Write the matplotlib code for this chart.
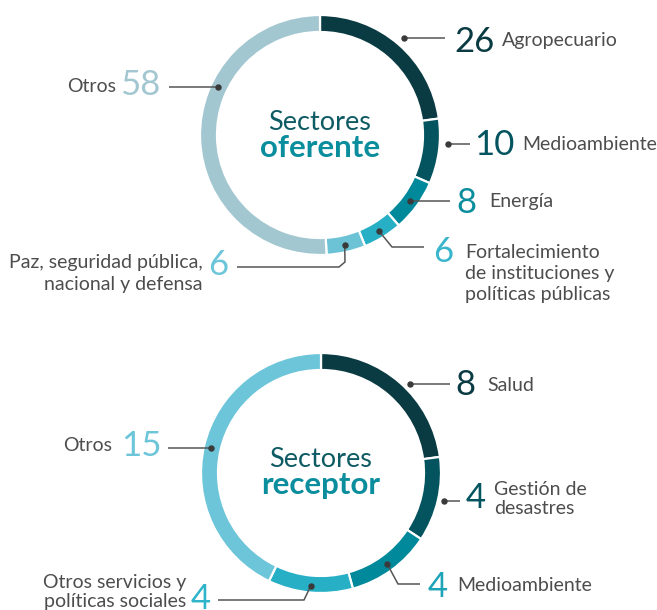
import numpy as np
import matplotlib.pyplot as plt

plt.rcParams['font.family'] = ['Lato', 'DejaVu Sans']

# ---- data ----
top_labels = ['Agropecuario', 'Medioambiente', 'Energía',
              'Fortalecimiento\nde instituciones y\npolíticas públicas',
              'Paz, seguridad pública,\nnacional y defensa', 'Otros']
top_values = [26, 10, 8, 6, 6, 58]
top_colors = ['#0a3b43', '#03545f', '#00899b', '#27afc5', '#6cc3d6', '#a3c7d1']
top_num_colors = ['#0a3b43', '#03545f', '#0a8d9d', '#3ab5cb', '#6cc5d8', '#a3c7d1']

bottom_labels = ['Salud', 'Gestión de\ndesastres', 'Medioambiente',
                 'Otros servicios y\npolíticas sociales', 'Otros']
bottom_values = [8, 4, 4, 4, 15]
bottom_colors = ['#0a3b43', '#03545f', '#00899b', '#27afc5', '#6cc5d8']
bottom_num_colors = ['#0a3b43', '#03545f', '#1ea3b7', '#2fb4ca', '#6cc5d8']

LABEL_C = '#4d4d4d'
LINE_C = '#555555'

fig = plt.figure(figsize=(6.57, 6.10), dpi=100)
ax = fig.add_axes([0, 0, 1, 1])


def donut(values, colors, cx, cy):
    # y axis is inverted, so counterclock in data space reads clockwise on screen
    ax.pie(values, colors=colors, center=(cx, cy), radius=120,
           startangle=-90, counterclock=True,
           wedgeprops=dict(width=17, edgecolor='white', linewidth=1.6))


def mid_angles(values):
    v = np.array(values, dtype=float)
    cum = np.cumsum(v) - v / 2
    return cum / v.sum() * 360.0


def annotate(cx, cy, ang, r, path, num, num_xy, num_ha, num_color,
             label, label_xy, label_ha, ls):
    a = np.radians(ang)
    dx, dy = cx + r * np.sin(a), cy - r * np.cos(a)
    xs = [dx] + [p[0] for p in path]
    ys = [dy] + [p[1] if p[1] is not None else dy for p in path]
    ax.plot(xs, ys, color=LINE_C, lw=1.1, solid_capstyle='butt', zorder=3)
    ax.plot(dx, dy, 'o', color='#3a3a3a', ms=3.6, zorder=4)
    ax.text(num_xy[0], num_xy[1], str(num), fontsize=25, color=num_color,
            ha=num_ha, va='baseline')
    ax.text(label_xy[0], label_xy[1], label, fontsize=14, color=LABEL_C,
            ha=label_ha, va='baseline', multialignment=label_ha,
            linespacing=ls)


# ---- top donut: Sectores oferente ----
cx, cy = 320, 135
donut(top_values, top_colors, cx, cy)
ang = mid_angles(top_values)
ang[1] = 94
ang[5] = 295
top_layout = [
    # radius, path, number xy, ha, label xy (baseline of last line), ha, linespacing
    (128, [(445, None)], (454, 52), 'left', (502, 46), 'left', 1.3),
    (128, [(470, None)], (474, 155), 'left', (522, 150), 'left', 1.3),
    (112, [(450, None)], (456, 213), 'left', (489, 207), 'left', 1.3),
    (113, [(392, 247), (424, 247)], (433, 262), 'left', (465, 300), 'left', 1.3),
    (113, [(345, 262), (339, 267), (237, 267)], (228, 275), 'right', (203, 290), 'right', 1.37),
    (113, [(169, None)], (160, 95), 'right', (116, 92), 'right', 1.3),
]
for i, (r, path, nxy, nha, lxy, lha, ls) in enumerate(top_layout):
    annotate(cx, cy, ang[i], r, path, top_values[i], nxy, nha,
             top_num_colors[i], top_labels[i], lxy, lha, ls)

ax.text(cx, 130, 'Sectores', fontsize=19.5, color='#0f5b64', ha='center', va='baseline')
ax.text(cx, 157, 'oferente', fontsize=22.5, color='#0a8d9d', ha='center',
        va='baseline', fontweight='bold')

# ---- bottom donut: Sectores receptor ----
cx, cy = 321, 473
donut(bottom_values, bottom_colors, cx, cy)
ang = mid_angles(bottom_values)
ang[0] = 45
bottom_layout = [
    (126, [(450, None)], (455, 395), 'left', (487, 391), 'left', 1.3),
    (126, [(460, None)], (466, 508), 'left', (494, 514), 'left', 1.15),
    (113, [(398, 584), (420, 584)], (428, 597), 'left', (457, 591), 'left', 1.3),
    (113, [(304, 600), (218, 600)], (211, 609), 'right', (186, 607), 'right', 1.15),
    (113, [(168, None)], (162, 456), 'right', (112, 451), 'right', 1.3),
]
for i, (r, path, nxy, nha, lxy, lha, ls) in enumerate(bottom_layout):
    annotate(cx, cy, ang[i], r, path, bottom_values[i], nxy, nha,
             bottom_num_colors[i], bottom_labels[i], lxy, lha, ls)

ax.text(cx, 467, 'Sectores', fontsize=19.5, color='#0f5b64', ha='center', va='baseline')
ax.text(cx, 494, 'receptor', fontsize=22.5, color='#0a8d9d', ha='center',
        va='baseline', fontweight='bold')

ax.set_xlim(0, 657)
ax.set_ylim(610, 0)
ax.set_aspect('equal')
ax.axis('off')

fig.savefig('out.png', dpi=100, facecolor='white')
